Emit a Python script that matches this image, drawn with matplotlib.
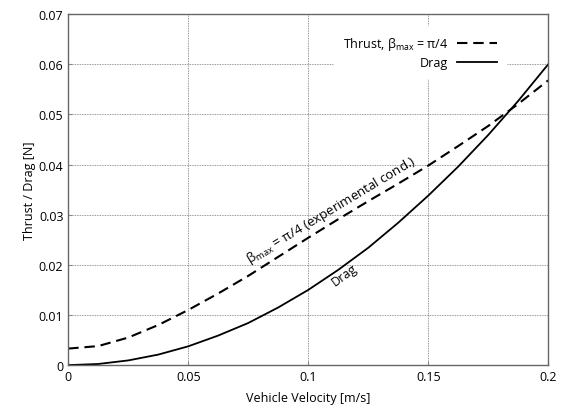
import matplotlib
matplotlib.use("Agg")
import matplotlib.pyplot as plt

# velocities (m/s)
velocity = [0, 0.0125, 0.025, 0.0375, 0.05, 0.0625, 0.075, 0.0875, 0.1,
            0.1125, 0.125, 0.1375, 0.15, 0.1625, 0.175, 0.1875, 0.2]
# thrust, beta_max = pi/4 (N)
thrust = [0.0033, 0.0038, 0.0055, 0.0080, 0.0110, 0.0143, 0.0178, 0.0216, 0.0254,
          0.0291, 0.0327, 0.0362, 0.0398, 0.0437, 0.0477, 0.0521, 0.0568]
# drag (N)
drag = [0.0, 0.00023, 0.00094, 0.0021, 0.00375, 0.0059, 0.0084, 0.0115, 0.015,
        0.019, 0.0234, 0.0284, 0.0338, 0.0396, 0.0459, 0.0527, 0.060]

xticks = [0, 0.05, 0.1, 0.15, 0.2]
xtick_labels = ["0", "0.05", "0.1", "0.15", "0.2"]
yticks = [0, 0.01, 0.02, 0.03, 0.04, 0.05, 0.06, 0.07]
ytick_labels = ["0", "0.01", "0.02", "0.03", "0.04", "0.05", "0.06", "0.07"]

plt.rcParams['font.family'] = ['Open Sans', 'DejaVu Sans']
plt.rcParams['mathtext.fontset'] = 'custom'
plt.rcParams['mathtext.rm'] = 'Open Sans'
plt.rcParams['mathtext.it'] = 'Open Sans'

fig = plt.figure(figsize=(5.64, 4.10), dpi=100)
ax = fig.add_axes([0.121, 0.107, 0.851, 0.856])

ax.plot(velocity, thrust, color='black', lw=1.5, linestyle=(0, (5, 2.8)),
        label=r'Thrust, $\mathrm{\beta_{max}}$ = π/4')
ax.plot(velocity, drag, color='black', lw=1.3, label='Drag')

ax.set_xlim(0, 0.2)
ax.set_ylim(0, 0.07)
ax.set_xticks(xticks)
ax.set_xticklabels(xtick_labels)
ax.set_yticks(yticks)
ax.set_yticklabels(ytick_labels)
ax.tick_params(direction='in', length=3, labelsize=9, color='#888888')
ax.grid(True, color='#777777', linestyle=(0, (1, 1)), lw=0.6)
for sp in ax.spines.values():
    sp.set_color('#666666')
    sp.set_linewidth(1.0)

ax.set_xlabel('Vehicle Velocity [m/s]', fontsize=9, labelpad=6)
ax.set_ylabel('Thrust / Drag [N]', fontsize=9, labelpad=2)

leg = ax.legend(loc='upper right', bbox_to_anchor=(0.912, 0.965), borderaxespad=0,
                markerfirst=False, frameon=True, fontsize=9, handlelength=3.2,
                borderpad=0.7, labelspacing=0.3, handletextpad=0.7, fancybox=False)
leg.get_frame().set_edgecolor('white')
leg.get_frame().set_facecolor('white')
leg.get_frame().set_alpha(1.0)
for t in leg.get_texts():
    t.set_ha('right')

ax.text(0.0765, 0.0196, r'$\mathrm{\beta_{max}}$ = π/4 (experimental cond.)', fontsize=9.5,
        rotation=31, rotation_mode='anchor', ha='left', va='bottom')
ax.text(0.1085, 0.0175, 'Drag', fontsize=9,
        rotation=36, rotation_mode='anchor', ha='left', va='top')

fig.savefig('out.png', dpi=100, facecolor='white')
